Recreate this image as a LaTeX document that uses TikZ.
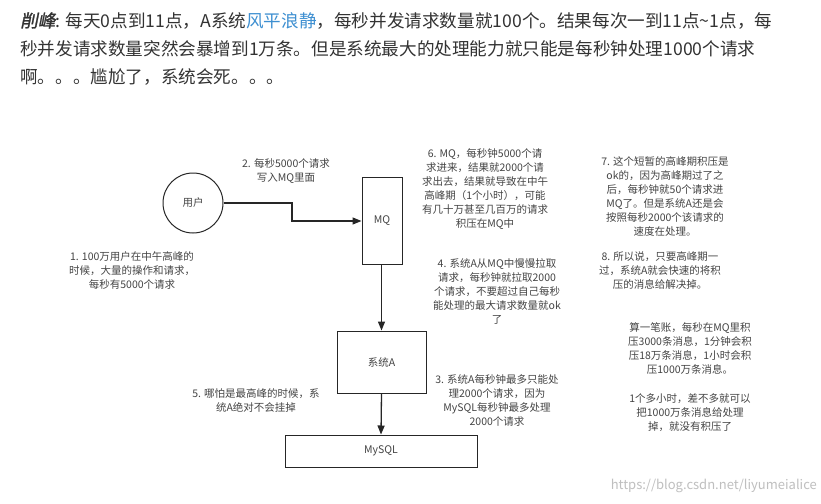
\documentclass[tikz,border=0pt]{standalone}
\usepackage{fontspec}
\setmainfont{Noto Sans CJK SC}
\newfontfamily\hdit[FakeSlant=0.2,FakeBold=1.5]{Noto Sans CJK SC}
\usetikzlibrary{arrows.meta}
\definecolor{txt}{HTML}{444444}
\definecolor{hdr}{HTML}{333333}
\definecolor{lnk}{HTML}{3D8FD1}
\tikzset{
  lbl/.style={text=txt,font=\fontsize{10.5}{14}\selectfont,align=center,inner sep=0pt},
  box/.style={draw=black!85,line width=1pt,inner sep=0pt,text=txt,font=\fontsize{10.5}{13}\selectfont},
  arr/.style={draw=black!85,line width=1.3pt,-{Triangle[length=9pt,width=7pt]}}
}
\begin{document}
\begin{tikzpicture}[x=1pt,y=-1pt]
\useasboundingbox[fill=white] (0,0) rectangle (821,503);
% header
\node[anchor=north west,text=hdr,font=\fontsize{17.6}{28}\selectfont,align=left,inner sep=0pt] (hd) at (20,12)
 {{\hdit 削峰}: 每天0点到11点，A系统\textcolor{lnk}{风平浪静}，每秒并发请求数量就100个。结果每次一到11点\textasciitilde1点，每\\秒并发请求数量突然会暴增到1万条。但是系统最大的处理能力就只能是每秒钟处理1000个请求\\啊。。。尴尬了，系统会死。。。};
% nodes
\node[box,circle,minimum size=60pt] (user) at (193,203) {用户};
\node[box,minimum width=40pt,minimum height=87pt] (mq) at (382,220.5) {MQ};
\node[box,minimum width=89pt,minimum height=62pt] (sa) at (381.5,362) {系统A};
\node[box,minimum width=192pt,minimum height=32pt] (db) at (381,451) {MySQL};
\coordinate (c1) at (292,203);
\coordinate (c2) at (292,221);
\draw[arr] (user.east) -- (c1) -- (c2) -- (c2 -| mq.west);
\draw[arr] (mq.south -| sa.north) -- (sa.north);
\draw[arr] (sa.south) -- (db.north);
% labels
\node[lbl] (l2) at (286,171) {2. 每秒5000个请求\\写入MQ里面};
\node[lbl] (l1) at (132,270) {1. 100万用户在中午高峰的\\时候，大量的操作和请求，\\每秒有5000个请求};
\node[lbl] (l6) at (485,189) {6. MQ，每秒钟5000个请\\求进来，结果就2000个请\\求出去，结果就导致在中午\\高峰期（1个小时），可能\\有几十万甚至几百万的请求\\积压在MQ中};
\node[lbl] (l7) at (665,196) {7. 这个短暂的高峰期积压是\\ok的，因为高峰期过了之\\后，每秒钟就50个请求进\\MQ了。但是系统A还是会\\按照每秒2000个该请求的\\速度在处理。};
\node[lbl] (l4) at (497,291) {4. 系统A从MQ中慢慢拉取\\请求，每秒钟就拉取2000\\个请求，不要超过自己每秒\\能处理的最大请求数量就ok\\了};
\node[lbl] (l8) at (660,271) {8. 所以说，只要高峰期一\\过，系统A就会快速的将积\\压的消息给解决掉。};
\node[lbl] (l5) at (256,400) {5. 哪怕是最高峰的时候，系\\统A绝对不会挂掉};
\node[lbl] (l3) at (497,400) {3. 系统A每秒钟最多只能处\\理2000个请求，因为\\MySQL每秒钟最多处理\\2000个请求};
\node[lbl] (lc) at (690,348) {算一笔账，每秒在MQ里积\\压3000条消息，1分钟会积\\压18万条消息，1小时会积\\压1000万条消息。};
\node[lbl] (ld) at (690,413) {1个多小时，差不多就可以\\把1000万条消息给处理\\掉，就没有积压了};
\node[anchor=east,text=black!25,font=\fontsize{13}{13}\selectfont,inner sep=0pt] (wm) at (817,486) {https://blog.csdn.net/liyumeialice};
\end{tikzpicture}
\end{document}
